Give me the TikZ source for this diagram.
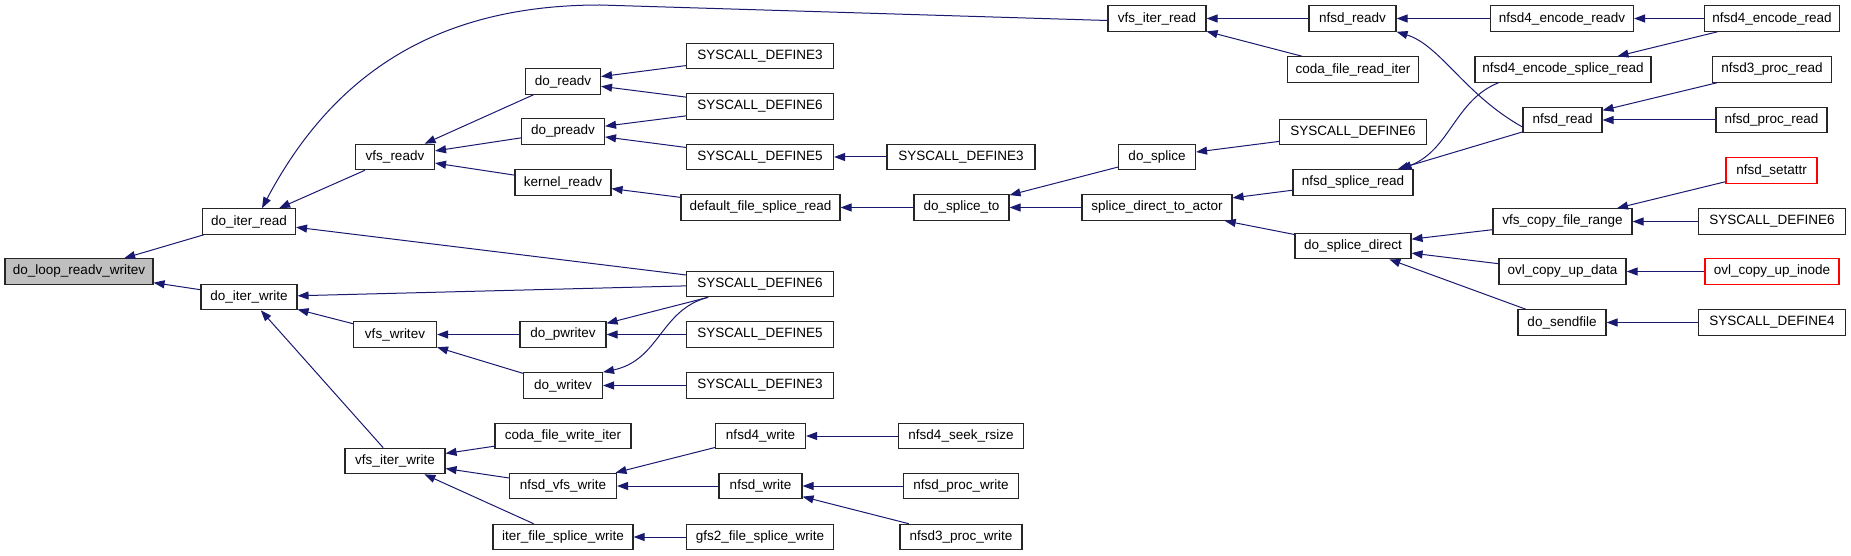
\documentclass[tikz,border=0pt]{standalone}
\usepackage{fontspec}
\setmainfont{Liberation Sans}
\usepackage{xcolor}
\usepackage{tikz}
\usetikzlibrary{arrows.meta}
\definecolor{graphblue}{HTML}{191970}
\definecolor{graphgray}{HTML}{BFBFBF}
\definecolor{graphred}{HTML}{FF0000}

\begin{document}
\begin{tikzpicture}[
  x=1pt, y=-1pt,
  every node/.style={font=\fontsize{13.5}{16}\selectfont, draw=black!85, line width=1.1pt, fill=white, minimum height=25.5pt, inner sep=2pt},
  rootfn/.style={fill=graphgray},
  calleefn/.style={draw=graphred},
  call/.style={draw=graphblue, line width=1pt, -{Triangle[length=11pt,width=8pt]}}
]
\useasboundingbox (0,0) rectangle (1851,556);
\node[rootfn, minimum width=148] (dlrw) at (79,271.5) {do\_loop\_readv\_writev};
\foreach \n/\x/\y/\w/\t in {
  dir/249/221.5/93/do\_iter\_read, diw/249/297/96/do\_iter\_write,
  vrv/395/157/79/vfs\_readv, vwv/395/334.5/83/vfs\_writev, viw/395/461/100/vfs\_iter\_write,
  drv/563/81.5/75/do\_readv, dprv/563/131.5/83/do\_preadv, krv/563/182.5/96/kernel\_readv,
  dpwv/563/334.5/86/do\_pwritev, dwv/563/385.5/79/do\_writev,
  cfwi/563/436/136/coda\_file\_write\_iter, nvw/563/486/107/nfsd\_vfs\_write,
  ifsw/563/537/140/iter\_file\_splice\_write,
  sd3a/760/56/147/SYSCALL\_DEFINE3, sd6a/760/106.5/147/SYSCALL\_DEFINE6,
  sd5a/760/157/147/SYSCALL\_DEFINE5, dfsr/760.5/207.5/159/default\_file\_splice\_read,
  sd6b/760/284/147/SYSCALL\_DEFINE6, sd5b/760/334.5/147/SYSCALL\_DEFINE5,
  sd3b/760/385.5/147/SYSCALL\_DEFINE3, n4w/760.5/436/90/nfsd4\_write,
  nw/760.5/486/83/nfsd\_write, gfsw/760/537/147/gfs2\_file\_splice\_write,
  sd3c/961/157/148/SYSCALL\_DEFINE3, dst/961.5/207.5/95/do\_splice\_to,
  n4sr/961/436/125/nfsd4\_seek\_rsize, npw/961/486/115/nfsd\_proc\_write,
  n3pw/961/537/122/nfsd3\_proc\_write,
  vir/1157/18.5/98/vfs\_iter\_read, dsp/1157/157/77/do\_splice,
  sdta/1157/207.5/150/splice\_direct\_to\_actor,
  nrv/1352.5/18.5/87/nfsd\_readv, cfri/1353/69.5/131/coda\_file\_read\_iter,
  sd6c/1353/132/147/SYSCALL\_DEFINE6, nsr/1353/182.5/120/nfsd\_splice\_read,
  dsd/1353/246/116/do\_splice\_direct,
  n4erv/1562/18.5/143/nfsd4\_encode\_readv, n4esr/1563/69.5/176/nfsd4\_encode\_splice\_read,
  nrd/1562.5/120/79/nfsd\_read, vcfr/1562.5/221.5/139/vfs\_copy\_file\_range,
  ocud/1562.5/271.5/127/ovl\_copy\_up\_data, dsf/1562/322.5/88/do\_sendfile,
  n4er/1772/18.5/135/nfsd4\_encode\_read, n3pr/1772/69.5/119/nfsd3\_proc\_read,
  npr/1771.5/120/111/nfsd\_proc\_read, sd6d/1772/221.5/147/SYSCALL\_DEFINE6,
  sd4/1772/322.5/147/SYSCALL\_DEFINE4}
  \node[minimum width=\w] (\n) at (\x,\y) {\t};
\node[calleefn, minimum width=91] (nsa) at (1771.5,170.5) {nfsd\_setattr};
\node[calleefn, minimum width=134] (ocui) at (1772,271.5) {ovl\_copy\_up\_inode};
\foreach \from/\to in {
  dir/dlrw, diw/dlrw, vrv/dir, sd6b/dir, sd6b/diw, vwv/diw, viw/diw,
  drv/vrv, dprv/vrv, krv/vrv, sd3a/drv, sd6a/drv, sd6a/dprv, sd5a/dprv, sd3c/sd5a,
  dfsr/krv, dst/dfsr, dsp/dst, sdta/dst, sd6c/dsp, nsr/sdta, dsd/sdta,
  nrd/nsr, nrv/vir, cfri/vir, n4erv/nrv, n4er/n4erv, n4er/n4esr, n3pr/nrd, npr/nrd,
  vcfr/dsd, ocud/dsd, dsf/dsd, nsa/vcfr, sd6d/vcfr, ocui/ocud, sd4/dsf,
  dpwv/vwv, dwv/vwv, sd6b/dpwv, sd5b/dpwv, sd3b/dwv,
  cfwi/viw, nvw/viw, ifsw/viw, n4w/nvw, nw/nvw, gfsw/ifsw, n4sr/n4w, npw/nw, n3pw/nw}
  \draw[call] (\from) -- (\to);
\coordinate (topbend) at (600,5);
\draw[call] ([yshift=-2]vir.west) -- (topbend) .. controls (430,5) and (330,80) .. ([xshift=13]dir.north);
\draw[call] ([xshift=24]n4esr.south west) .. controls (1455,100) and (1450,150) .. ([xshift=-13]nsr.north east);
\draw[call] ([yshift=-7]nrd.west) .. controls (1465,95) and (1440,45) .. (nrv.south east);
\draw[call] ([xshift=22]sd6b.south west) .. controls (660,310) and (660,360) .. (dwv.north east);
\end{tikzpicture}
\end{document}
